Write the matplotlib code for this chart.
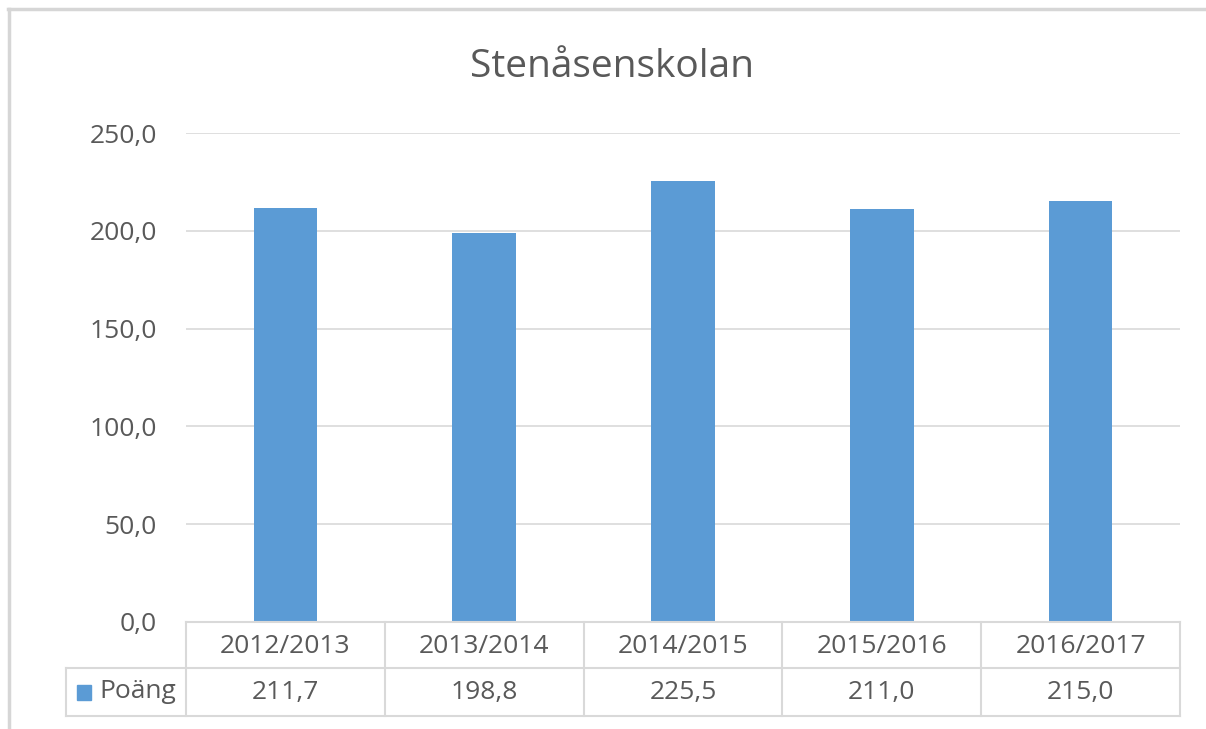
import matplotlib.pyplot as plt
from matplotlib.patches import Rectangle

categories = ['2012/2013', '2013/2014', '2014/2015', '2015/2016', '2016/2017']
poang = [211.7, 198.8, 225.5, 211.0, 215.0]
yticks = [0, 50, 100, 150, 200, 250]
series_name = 'Poäng'
title = 'Stenåsenskolan'

BLUE = '#5B9BD5'
TEXT = '#595959'
GRID = '#D9D9D9'
W, H = 1206, 729
FS = 19

plt.rcParams['font.family'] = ['Open Sans', 'DejaVu Sans']


def fmt(v):
    return f'{v:.1f}'.replace('.', ',')


def fx(px):
    return px / W


def fy(py):
    return 1 - py / H


fig = plt.figure(figsize=(W / 100, H / 100), dpi=100)

# screenshot frame
fig.add_artist(plt.Line2D([fx(8), fx(1206)], [fy(9), fy(9)], color='#D6D6D6', lw=2.5))
fig.add_artist(plt.Line2D([fx(9), fx(9)], [fy(9), fy(729)], color='#D6D6D6', lw=2.5))

ax = fig.add_axes([fx(186), fy(622), fx(1180) - fx(186), fy(133) - fy(622)])
x = range(len(categories))
ax.bar(x, poang, width=0.32, color=BLUE, zorder=3)
ax.set_xlim(-0.5, len(categories) - 0.5)
ax.set_ylim(0, 250)
ax.set_yticks(yticks)
ax.set_yticklabels([fmt(v) for v in yticks], fontsize=FS, color=TEXT)
ax.tick_params(axis='y', length=0, pad=21)
ax.set_xticks([])
ax.grid(axis='y', color=GRID, lw=1.2, zorder=0)
for s in ax.spines.values():
    s.set_visible(False)
fig.text(fx(612), fy(67), title, ha='center', va='center', fontsize=28, color=TEXT)

# data table below the axis
lc = dict(color=GRID, lw=1.5)
y0, y1, y2 = fy(622), fy(668), fy(716)
xs = [fx(186 + i * (1180 - 186) / len(categories)) for i in range(len(categories) + 1)]
fig.add_artist(plt.Line2D([xs[0], xs[-1]], [y0, y0], **lc))
fig.add_artist(plt.Line2D([fx(66), xs[-1]], [y1, y1], **lc))
fig.add_artist(plt.Line2D([fx(66), xs[-1]], [y2, y2], **lc))
fig.add_artist(plt.Line2D([fx(66), fx(66)], [y1, y2], **lc))
for xv in xs:
    fig.add_artist(plt.Line2D([xv, xv], [y0, y2], **lc))
for i, (c, v) in enumerate(zip(categories, poang)):
    xc = (xs[i] + xs[i + 1]) / 2
    fig.text(xc, (y0 + y1) / 2 - 0.002, c, ha='center', va='center', fontsize=FS, color=TEXT)
    fig.text(xc, (y1 + y2) / 2, fmt(v), ha='center', va='center', fontsize=FS, color=TEXT)
fig.add_artist(Rectangle((fx(77), fy(700)), fx(14), fy(685) - fy(700), color=BLUE))
fig.text(fx(99), (y1 + y2) / 2, series_name, ha='left', va='center', fontsize=FS, color=TEXT)

fig.savefig('out.png', dpi=100)
